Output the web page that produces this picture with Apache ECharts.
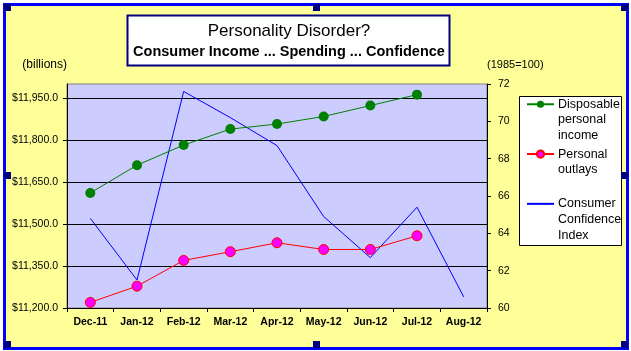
<!DOCTYPE html>
<html>
<head>
<meta charset="utf-8">
<script src="https://cdn.jsdelivr.net/npm/echarts@6/dist/echarts.min.js"></script>
<style>html,body{margin:0;padding:0;background:#fff}#c{width:631px;height:351px}</style>
</head>
<body>
<div id="c"></div>
<script>
var categories = ['Dec-11','Jan-12','Feb-12','Mar-12','Apr-12','May-12','Jun-12','Jul-12','Aug-12'];
var incomeValues = [11611, 11710, 11782, 11839, 11857, 11884, 11923, 11962, null];
var outlayValues = [11220, 11278, 11370, 11401, 11433, 11409, 11409, 11458, null];
var confidenceValues = [64.8, 61.5, 71.6, 70.2, 68.7, 64.9, 62.7, 65.4, 60.6];
var seriesNames = ['Disposable personal income', 'Personal outlays', 'Consumer Confidence Index'];
var legendLabels = ['\n\nDisposable\npersonal\nincome', '\nPersonal\noutlays', '\n\nConsumer\nConfidence\nIndex'];
var titleText = 'Personality Disorder?';
var subtitleText = 'Consumer Income ... Spending ... Confidence';

var FONT = '"Liberation Sans", Arial, sans-serif';
var chart = echarts.init(document.getElementById('c'), null, {renderer: 'canvas'});

function handle(x, y) {
  return {type: 'rect', shape: {x: x, y: y, width: 7, height: 7}, style: {fill: '#000080'}, z: 20};
}

var option = {
  animation: false,
  backgroundColor: '#ffffff',
  textStyle: {fontFamily: FONT},
  title: {
    text: titleText,
    subtext: subtitleText,
    left: 289, top: 23, textAlign: 'center', itemGap: 4, padding: 0,
    textStyle: {fontFamily: FONT, fontSize: 17, fontWeight: 'normal', color: '#000'},
    subtextStyle: {fontFamily: FONT, fontSize: 14.5, fontWeight: 'bold', color: '#000'},
    z: 10
  },
  graphic: [
    {type: 'rect', shape: {x: 4.5, y: 4.5, width: 623, height: 344}, style: {fill: '#FFFF99', stroke: '#0000FF', lineWidth: 3}, z: -10},
    {type: 'rect', shape: {x: 127.5, y: 15.5, width: 322, height: 50}, style: {fill: '#ffffff', stroke: '#000080', lineWidth: 2}, z: 1},
    {type: 'rect', shape: {x: 519.5, y: 96.5, width: 102, height: 149}, style: {fill: '#ffffff', stroke: '#000000', lineWidth: 1}, z: 1},
    handle(4, 4), handle(313, 4), handle(621, 4),
    handle(4, 172), handle(621, 172),
    handle(4, 341), handle(313, 341), handle(621, 341)
  ],
  legend: {
    orient: 'vertical',
    left: 526, top: 65,
    padding: 0,
    itemGap: -13,
    itemWidth: 27, itemHeight: 9,
    z: 10,
    data: [
      {name: seriesNames[0]},
      {name: seriesNames[1]},
      {name: seriesNames[2], itemStyle: {opacity: 0}}
    ],
    formatter: function (name) { return legendLabels[seriesNames.indexOf(name)]; },
    textStyle: {fontFamily: FONT, fontSize: 12.5, lineHeight: 15.7, color: '#000', padding: [0, 0, 0, -1]}
  },
  grid: {left: 67, right: 144, top: 84, bottom: 43, show: true, backgroundColor: '#CCCCFF', borderColor: '#808080', borderWidth: 1},
  xAxis: {
    type: 'category',
    data: categories,
    boundaryGap: true,
    axisLine: {lineStyle: {color: '#000', width: 1}},
    axisTick: {show: true, length: 4, interval: 0, lineStyle: {color: '#000'}},
    axisLabel: {interval: 0, margin: 9, fontFamily: FONT, fontSize: 10.5, fontWeight: 'bold', color: '#000'}
  },
  yAxis: [
    {
      type: 'value', min: 11200, max: 12000, interval: 150, position: 'left',
      name: '(billions)', nameLocation: 'end', nameGap: 19,
      nameTextStyle: {fontFamily: FONT, fontSize: 12, color: '#000', align: 'right', verticalAlign: 'middle'},
      axisLine: {show: true, lineStyle: {color: '#000', width: 1}},
      axisTick: {show: true, length: 4, lineStyle: {color: '#000'}},
      axisLabel: {margin: 9, showMaxLabel: false, fontFamily: FONT, fontSize: 10.5, color: '#000',
        formatter: function (v) { return '$' + v.toLocaleString('en-US', {minimumFractionDigits: 1, maximumFractionDigits: 1}); }},
      splitLine: {show: true, showMaxLine: false, lineStyle: {color: '#000', width: 1}}
    },
    {
      type: 'value', min: 60, max: 72, interval: 2, position: 'right',
      name: '(1985=100)', nameLocation: 'end', nameGap: 19,
      nameTextStyle: {fontFamily: FONT, fontSize: 11, color: '#000', align: 'left', verticalAlign: 'middle'},
      axisLine: {show: true, lineStyle: {color: '#000', width: 1}},
      axisTick: {show: true, length: 4, lineStyle: {color: '#000'}},
      axisLabel: {margin: 11, fontFamily: FONT, fontSize: 10.5, color: '#000'},
      splitLine: {show: false}
    }
  ],
  series: [
    {
      name: seriesNames[0], type: 'line', yAxisIndex: 0, data: incomeValues,
      symbol: 'circle', symbolSize: 10,
      lineStyle: {color: '#008000', width: 1},
      itemStyle: {color: '#008000'}, z: 3
    },
    {
      name: seriesNames[1], type: 'line', yAxisIndex: 0, data: outlayValues,
      symbol: 'circle', symbolSize: 10,
      lineStyle: {color: '#FF0000', width: 1},
      itemStyle: {color: '#FF00FF', borderColor: '#FF0000', borderWidth: 1}, z: 3
    },
    {
      name: seriesNames[2], type: 'line', yAxisIndex: 1, data: confidenceValues,
      symbol: 'none', showSymbol: false,
      lineStyle: {color: '#0000FF', width: 1},
      itemStyle: {color: '#0000FF'}, z: 2
    }
  ]
};
chart.setOption(option);
</script>
</body>
</html>
